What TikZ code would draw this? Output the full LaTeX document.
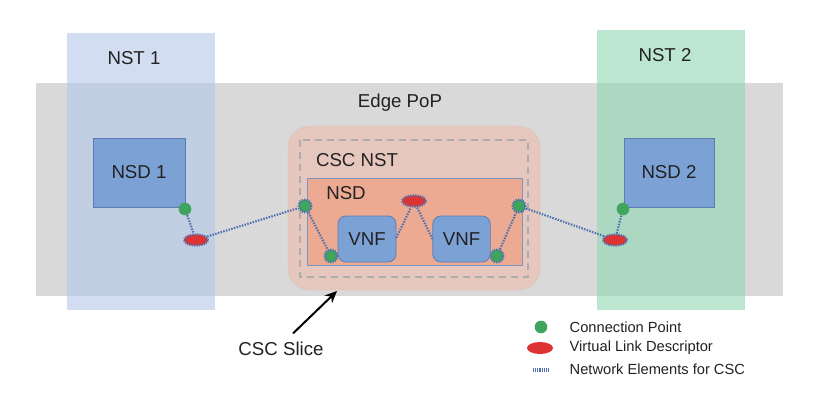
\documentclass[tikz,border=0pt]{standalone}
\usepackage{fontspec}
\setmainfont{Liberation Sans}
\usetikzlibrary{shapes.geometric,arrows.meta}
\definecolor{popgray}{HTML}{D9D9D9}
\definecolor{nstblue}{HTML}{B4C7E7}
\definecolor{nstgreen}{HTML}{8FD6B1}
\definecolor{cscsalmon}{HTML}{F4B6A4}
\definecolor{nsdsalmon}{HTML}{ECAA93}
\definecolor{boxblue}{HTML}{7CA1D4}
\definecolor{edgeblue}{HTML}{5A7DB5}
\definecolor{cpgreen}{HTML}{3FA45E}
\definecolor{vldred}{HTML}{DD3333}
\definecolor{linkblue}{HTML}{4C70B0}
\definecolor{textdark}{HTML}{222222}

\tikzset{
	big/.style={font=\fontsize{14}{16}\selectfont,text=textdark},
	small/.style={font=\fontsize{11}{13}\selectfont,text=textdark},
	bluebox/.style={big,draw=edgeblue,fill=boxblue,line width=0.6pt},
	cp/.style={circle,fill=cpgreen,minimum size=9.5pt,inner sep=0pt},
	vld/.style={ellipse,fill=vldred,minimum width=18pt,minimum height=8.5pt,inner sep=0pt},
	csc/.style={draw=linkblue,line width=1.6pt,dash pattern=on 0.9pt off 0.9pt},
	link/.style={draw=linkblue,line width=1.6pt,dash pattern=on 1.1pt off 1pt},
}

\begin{document}
\begin{tikzpicture}[x=0.75pt,y=-0.75pt]
	\useasboundingbox (0,0) rectangle (824,400);
	\fill[popgray] (36,83) rectangle (783,296);
	\fill[nstblue,opacity=0.6] (67,33) rectangle (215,310);
	\fill[nstgreen,opacity=0.6] (597,30) rectangle (745,310);
	\node[big] (pop) at (400,103) {Edge PoP};
	\node[big] (nst1) at (134,58) {NST 1};
	\node[big] (nst2) at (665,55) {NST 2};

	\filldraw[fill=cscsalmon,draw=cscsalmon!80!black!60,fill opacity=0.5,draw opacity=0.4,rounded corners=16pt] (288,126) rectangle (540,290);
	\draw[gray!65,dashed,line width=1.2pt,dash pattern=on 5pt off 4pt] (300,140) rectangle (528,277);
	\node[big] (cscnst) at (357,160) {CSC NST};
	\filldraw[fill=nsdsalmon,draw=edgeblue!80,line width=0.6pt] (307,178) rectangle (522,265);
	\node[big] (nsd) at (346,193) {NSD};
	\node[bluebox,rounded corners=6pt,minimum width=43.5pt,minimum height=34.5pt] (vnf1) at (367,239) {VNF};
	\node[bluebox,rounded corners=6pt,minimum width=43pt,minimum height=34.5pt] (vnf2) at (461.5,239) {VNF};

	\node[bluebox,minimum width=69pt,minimum height=51.75pt] (nsd1) at (139,172.5) {NSD 1};
	\node[bluebox,minimum width=67.5pt,minimum height=51.75pt] (nsd2) at (669,172.5) {NSD 2};

	\node[cp] (cpa) at (185,209) {};
	\node[vld,csc] (vla) at (196,240) {};
	\node[cp,csc] (cpb) at (305,206) {};
	\node[cp,csc] (cpc) at (331,256) {};
	\node[vld,csc] (vlb) at (414,201) {};
	\node[cp,csc] (cpd) at (497,256) {};
	\node[cp,csc] (cpe) at (519,206) {};
	\node[vld,csc] (vlc) at (615,240) {};
	\node[cp] (cpf) at (623,209) {};

	\draw[link] (cpa) -- (vla);
	\draw[link] (vla) -- (cpb);
	\draw[link] (cpb) -- (cpc);
	\draw[link] ([yshift=1pt]vnf1.east) -- (vlb);
	\draw[link] (vlb) -- (vnf2.west);
	\draw[link] (cpd) -- (cpe);
	\draw[link] (cpe) -- (vlc);
	\draw[link] (vlc) -- (cpf);

	\node[big] (slice) at (281,349) {CSC Slice};
	\coordinate (slicetip) at (337,291);
	\draw[line width=1.5pt,-{Stealth[length=9pt,width=8pt]}] ([xshift=9pt,yshift=3pt]slice.north) -- (slicetip);

	\node[cp] (keycp) at (541,327) {};
	\node[vld,minimum width=19.5pt,minimum height=9pt] (keyvld) at (540,348) {};
	\coordinate (keya) at (533,370);
	\coordinate (keyb) at (549,370);
	\draw[draw=linkblue,line width=3pt,dash pattern=on 0.9pt off 0.7pt] (keya) -- (keyb);
	\node[small,anchor=west] (keycptext) at (565,327) {Connection Point};
	\node[small,anchor=west] (keyvldtext) at (565,348) {Virtual Link Descriptor};
	\node[small,anchor=west] (keylinktext) at (565,369) {Network Elements for CSC};
\end{tikzpicture}
\end{document}
